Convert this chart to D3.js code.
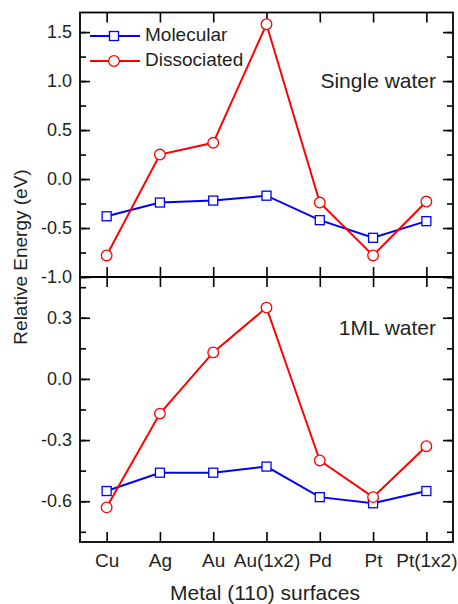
<!DOCTYPE html>
<html>
<head>
<meta charset="utf-8">
<script src="https://cdn.jsdelivr.net/npm/d3@7"></script>
<style>
  body { margin: 0; background: #fff; }
  text { font-family: "Liberation Sans", Arial, sans-serif; fill: #231f20; }
</style>
</head>
<body>
<div id="chart"></div>
<script>
// categories and values
var metals = ["Cu", "Ag", "Au", "Au(1x2)", "Pd", "Pt", "Pt(1x2)"];
var singleMolecular = [-0.38, -0.24, -0.22, -0.17, -0.42, -0.60, -0.43];
var singleDissociated = [-0.78, 0.25, 0.37, 1.58, -0.24, -0.78, -0.23];
var mlMolecular = [-0.55, -0.46, -0.46, -0.43, -0.58, -0.61, -0.55];
var mlDissociated = [-0.63, -0.17, 0.13, 0.35, -0.40, -0.58, -0.33];
var singleTicks = [-1.0, -0.5, 0.0, 0.5, 1.0, 1.5];
var mlTicks = [-0.6, -0.3, 0.0, 0.3];

var cfg = {
  w: 458,
  h: 604,
  left: 80,
  right: 453,
  top: 12.5,
  mid: 277,
  bottom: 542,
  blue: "#0000ff",
  red: "#ff0000"
};

var svg = d3.select("#chart")
  .append("svg")
  .attr("width", cfg.w)
  .attr("height", cfg.h);

var x = d3.scaleLinear()
  .domain([-0.5, metals.length - 0.5])
  .range([cfg.left, cfg.right]);

var panels = [
  { mol: singleMolecular, dis: singleDissociated, ticks: singleTicks,
    domain: [-1.0, 1.7], minorStep: 0.25, y0: cfg.top, y1: cfg.mid,
    label: "Single water", labelY: 88 },
  { mol: mlMolecular, dis: mlDissociated, ticks: mlTicks,
    domain: [-0.8, 0.5], minorStep: 0.15, y0: cfg.mid, y1: cfg.bottom,
    label: "1ML water", labelY: 335 }
];

function fmt(d) { return d3.format(".1f")(d).replace("−", "-"); }

panels.forEach(function(p, pi) {
  var y = d3.scaleLinear().domain(p.domain).range([p.y1, p.y0]);
  var g = svg.append("g");

  // minor ticks
  var minor = [];
  for (var v = p.ticks[0] - p.minorStep * 2; v <= p.domain[1] + 1e-9; v += p.minorStep) {
    if (v >= p.domain[0] - 1e-9) minor.push(+v.toFixed(3));
  }

  g.append("g")
    .attr("transform", "translate(" + cfg.left + ",0)")
    .call(d3.axisLeft(y).tickValues(minor).tickSize(-6).tickFormat(""));
  g.append("g")
    .attr("transform", "translate(" + cfg.right + ",0)")
    .call(d3.axisRight(y).tickValues(minor).tickSize(-6).tickFormat(""));

  // major ticks
  var yl = g.append("g")
    .attr("transform", "translate(" + cfg.left + ",0)")
    .call(d3.axisLeft(y).tickValues(p.ticks).tickSize(-10).tickPadding(8).tickFormat(fmt));
  yl.selectAll("text").style("font-size", "18px").attr("fill", "#231f20")
    .style("font-family", "'Liberation Sans', Arial, sans-serif");
  g.append("g")
    .attr("transform", "translate(" + cfg.right + ",0)")
    .call(d3.axisRight(y).tickValues(p.ticks).tickSize(-10).tickFormat(""));

  // x ticks top and bottom
  var idx = d3.range(metals.length);
  g.append("g")
    .attr("transform", "translate(0," + p.y0 + ")")
    .call(d3.axisTop(x).tickValues(idx).tickSize(-10).tickFormat(""));
  var xb = g.append("g")
    .attr("transform", "translate(0," + p.y1 + ")")
    .call(d3.axisBottom(x).tickValues(idx).tickSize(-10).tickPadding(12)
      .tickFormat(function(i) { return pi === 1 ? metals[i] : ""; }));
  xb.selectAll("text").style("font-size", "19px").attr("fill", "#231f20")
    .style("font-family", "'Liberation Sans', Arial, sans-serif");

  g.selectAll(".domain").remove();
  g.selectAll(".tick line").attr("stroke", "#000").attr("stroke-width", 1.6);

  // frame
  g.append("rect")
    .attr("x", cfg.left).attr("y", p.y0)
    .attr("width", cfg.right - cfg.left).attr("height", p.y1 - p.y0)
    .attr("fill", "none").attr("stroke", "#000").attr("stroke-width", 1.8);

  var line = d3.line()
    .x(function(d, i) { return x(i); })
    .y(function(d) { return y(d); });

  // molecular series
  g.append("path").datum(p.mol)
    .attr("fill", "none").attr("stroke", cfg.blue).attr("stroke-width", 2)
    .attr("d", line);
  g.selectAll(".sq").data(p.mol).enter().append("rect")
    .attr("x", function(d, i) { return x(i) - 4.5; })
    .attr("y", function(d) { return y(d) - 4.5; })
    .attr("width", 9).attr("height", 9)
    .attr("fill", "#fff").attr("stroke", cfg.blue).attr("stroke-width", 1.3);

  // dissociated series
  g.append("path").datum(p.dis)
    .attr("fill", "none").attr("stroke", cfg.red).attr("stroke-width", 2)
    .attr("d", line);
  g.selectAll(".ci").data(p.dis).enter().append("circle")
    .attr("cx", function(d, i) { return x(i); })
    .attr("cy", function(d) { return y(d); })
    .attr("r", 5.3)
    .attr("fill", "#fff").attr("stroke", cfg.red).attr("stroke-width", 1.3);

  g.append("text")
    .attr("x", 436).attr("y", p.labelY)
    .attr("text-anchor", "end")
    .style("font-size", "21px")
    .text(p.label);
});

// legend
var legend = [
  { name: "Molecular", color: cfg.blue, shape: "square" },
  { name: "Dissociated", color: cfg.red, shape: "circle" }
];
legend.forEach(function(l, i) {
  var ly = 36 + i * 25;
  svg.append("line")
    .attr("x1", 90).attr("x2", 140).attr("y1", ly).attr("y2", ly)
    .attr("stroke", l.color).attr("stroke-width", 2);
  if (l.shape === "square") {
    svg.append("rect").attr("x", 109.5).attr("y", ly - 4.5).attr("width", 9).attr("height", 9)
      .attr("fill", "#fff").attr("stroke", l.color).attr("stroke-width", 1.3);
  } else {
    svg.append("circle").attr("cx", 114).attr("cy", ly).attr("r", 5.3)
      .attr("fill", "#fff").attr("stroke", l.color).attr("stroke-width", 1.3);
  }
  svg.append("text")
    .attr("x", 145).attr("y", ly + 5)
    .style("font-size", "19px")
    .text(l.name);
});

// axis titles
svg.append("text")
  .attr("x", 265).attr("y", 600)
  .attr("text-anchor", "middle")
  .style("font-size", "21px")
  .text("Metal (110) surfaces");

svg.append("text")
  .attr("transform", "translate(27,257) rotate(-90)")
  .attr("text-anchor", "middle")
  .style("font-size", "19px")
  .text("Relative Energy (eV)");
</script>
</body>
</html>
